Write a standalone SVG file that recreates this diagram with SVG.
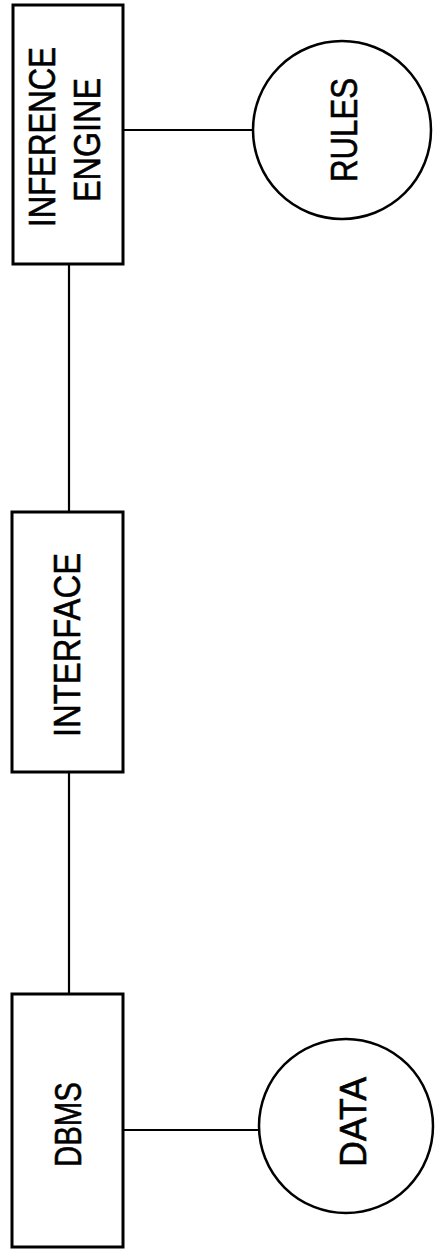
<svg xmlns="http://www.w3.org/2000/svg" width="435" height="1249" viewBox="0 0 435 1249">
  <style>
    .box { fill: #fff; stroke: #000; stroke-width: 3; }
    .store { fill: #fff; stroke: #000; stroke-width: 2.5; }
    .wire { stroke: #000; stroke-width: 2.2; fill: none; }
    .lbl { font-family: "Liberation Sans", Arial, sans-serif; font-size: 36px; fill: #000; stroke: #000; stroke-width: 0.6; text-anchor: middle; }
  </style>
  <rect width="435" height="1249" fill="#fff"/>

  <!-- connectors -->
  <g id="connectors">
    <line class="wire" x1="123" y1="130" x2="253" y2="130"/>
    <line class="wire" x1="69" y1="264" x2="69" y2="512"/>
    <line class="wire" x1="69" y1="772" x2="69" y2="994"/>
    <line class="wire" x1="123" y1="1130" x2="259" y2="1130"/>
  </g>

  <g id="inference-engine">
    <rect class="box" x="13" y="5" width="110" height="259"/>
    <text class="lbl" transform="translate(55,137) rotate(-90)" textLength="180" lengthAdjust="spacingAndGlyphs">INFERENCE</text>
    <text class="lbl" transform="translate(100,140) rotate(-90)" textLength="124" lengthAdjust="spacingAndGlyphs">ENGINE</text>
  </g>

  <g id="rules">
    <circle class="store" cx="342" cy="130" r="89"/>
    <text class="lbl" transform="translate(357,130) rotate(-90)" textLength="104" lengthAdjust="spacingAndGlyphs">RULES</text>
  </g>

  <g id="interface">
    <rect class="box" x="12" y="512" width="111" height="260"/>
    <text class="lbl" transform="translate(80,645) rotate(-90)" textLength="184" lengthAdjust="spacingAndGlyphs">INTERFACE</text>
  </g>

  <g id="dbms">
    <rect class="box" x="12" y="994" width="111" height="253"/>
    <text class="lbl" transform="translate(81,1124.5) rotate(-90)" textLength="85" lengthAdjust="spacingAndGlyphs">DBMS</text>
  </g>

  <g id="data">
    <circle class="store" cx="346" cy="1126" r="87"/>
    <text class="lbl" transform="translate(366,1122) rotate(-90)" textLength="90" lengthAdjust="spacingAndGlyphs">DATA</text>
  </g>
</svg>
